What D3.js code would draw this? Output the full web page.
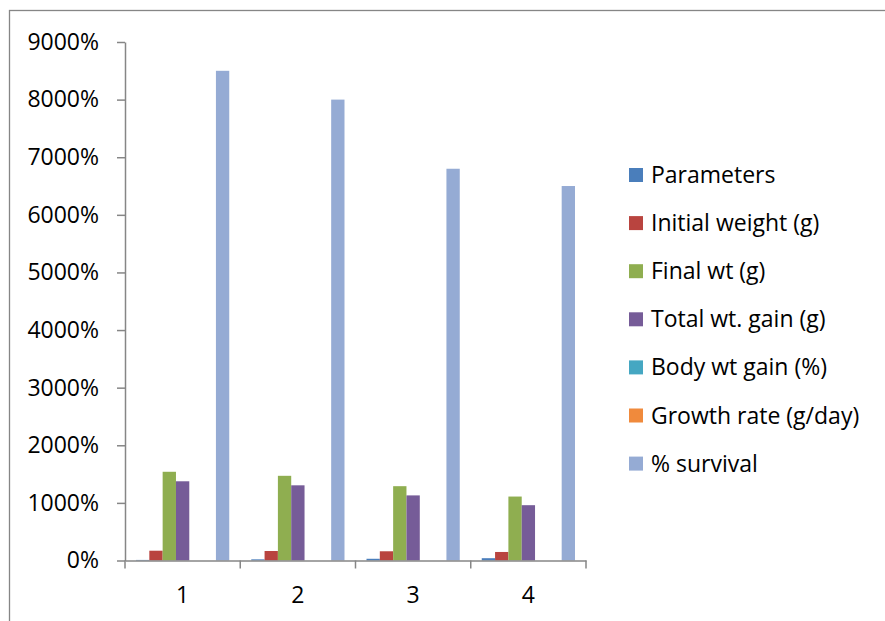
<!DOCTYPE html>
<html>
<head>
<meta charset="utf-8">
<script src="https://cdn.jsdelivr.net/npm/d3@7"></script>
<style>
  body { margin: 0; background: #fff; }
  svg { display: block; font-family: 'Open Sans', sans-serif; }
</style>
</head>
<body>
<script>
// chart data (fractions, axis shows them as percent)
const categories = ['1', '2', '3', '4'];
const seriesNames = ['Parameters', 'Initial weight (g)', 'Final wt (g)', 'Total wt. gain (g)',
  'Body wt gain (%)', 'Growth rate (g/day)', '% survival'];
const parameters = [0.1, 0.2, 0.3, 0.4];
const initialWeight = [1.7, 1.65, 1.6, 1.48];
const finalWt = [15.4, 14.7, 12.9, 11.1];
const totalGain = [13.75, 13.05, 11.3, 9.6];
const bodyGain = [0, 0, 0, 0];
const growthRate = [0, 0, 0, 0];
const survival = [85, 80, 68, 65];
const yTicks = [0, 10, 20, 30, 40, 50, 60, 70, 80, 90];
const colors = ['#4a7ebb', '#b9443f', '#8fae50', '#765c98', '#45a7c2', '#f08a3c', '#95abd4'];

const seriesValues = [parameters, initialWeight, finalWt, totalGain, bodyGain, growthRate, survival];

const width = 885;
const height = 621;
const fontSize = 23;

const svg = d3.select('body').append('svg').attr('width', width).attr('height', height);

// outer chart border (runs past right and bottom edge)
svg.append('rect')
  .attr('x', 9.5).attr('y', 10.5)
  .attr('width', 900).attr('height', 700)
  .attr('fill', 'none').attr('stroke', '#868686').attr('stroke-width', 1.3);

const plot = { left: 125, right: 586, top: 42, bottom: 560.5 };

const x0 = d3.scaleBand().domain(categories).range([plot.left, plot.right]);
const gap = 11;
const x1 = d3.scaleBand().domain(seriesNames).range([gap, x0.bandwidth() - gap]);
const y = d3.scaleLinear().domain([0, 90]).range([plot.bottom, plot.top]);

// bars
const groups = svg.append('g')
  .selectAll('g')
  .data(categories)
  .join('g')
    .attr('transform', (d) => `translate(${x0(d)},0)`);

groups.selectAll('rect')
  .data((d, i) => seriesNames.map((s, j) => ({ s, j, v: seriesValues[j][i] })))
  .join('rect')
    .attr('x', (d) => x1(d.s))
    .attr('width', x1.bandwidth())
    .attr('y', (d) => y(d.v))
    .attr('height', (d) => y(0) - y(d.v))
    .attr('fill', (d) => colors[d.j]);

// y axis
const yAxis = svg.append('g')
  .attr('transform', `translate(${plot.left},0)`)
  .call(d3.axisLeft(y).tickValues(yTicks).tickFormat((d) => d * 100 + '%').tickSize(8).tickPadding(18).tickSizeOuter(0));
yAxis.select('.domain').attr('stroke', '#868686').attr('stroke-width', 1.5);
yAxis.selectAll('.tick line').attr('stroke', '#868686').attr('stroke-width', 1.5);
yAxis.selectAll('.tick text').attr('font-size', fontSize).attr('fill', '#000').attr('font-family', "'Open Sans', sans-serif");

// x axis: labels at centres, tick marks between categories
const xAxis = svg.append('g')
  .attr('transform', `translate(0,${plot.bottom})`)
  .call(d3.axisBottom(x0).tickSize(0).tickPadding(26).tickSizeOuter(0));
xAxis.select('.domain').attr('stroke', '#868686').attr('stroke-width', 1.5);
xAxis.selectAll('.tick text').attr('font-size', fontSize).attr('fill', '#000').attr('font-family', "'Open Sans', sans-serif");

const bounds = categories.map((d) => x0(d)).concat([x0(categories[categories.length - 1]) + x0.bandwidth()]);
xAxis.selectAll('line.sep')
  .data(bounds)
  .join('line')
    .attr('class', 'sep')
    .attr('x1', (d) => d).attr('x2', (d) => d)
    .attr('y1', 0).attr('y2', 8)
    .attr('stroke', '#868686').attr('stroke-width', 1.5);

// legend
const legend = svg.append('g').attr('transform', 'translate(629,175)');
const rows = legend.selectAll('g')
  .data(seriesNames)
  .join('g')
    .attr('transform', (d, i) => `translate(0,${i * 48.1})`);
rows.append('rect')
  .attr('x', 0).attr('y', -7)
  .attr('width', 14).attr('height', 14)
  .attr('fill', (d, i) => colors[i]);
rows.append('text')
  .attr('x', 22).attr('y', 0)
  .attr('dy', '0.35em')
  .attr('font-size', fontSize)
  .text((d) => d);
</script>
</body>
</html>
